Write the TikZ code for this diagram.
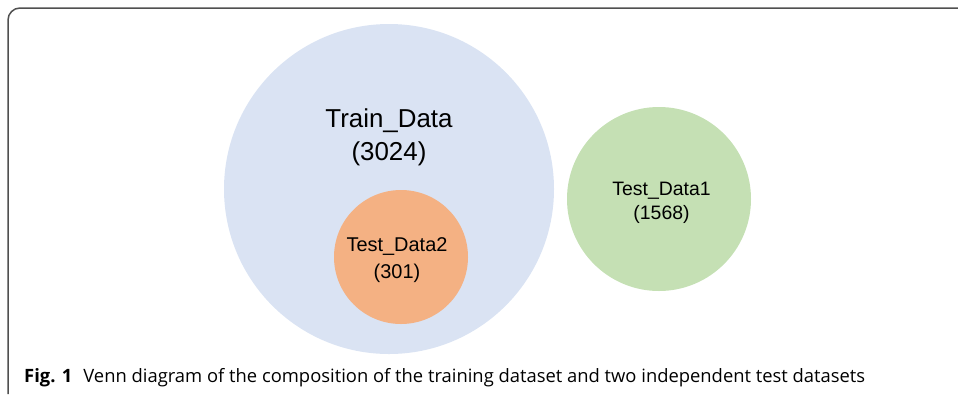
\documentclass[tikz,border=0pt]{standalone}
\usepackage{fontspec}
\setmainfont{Liberation Sans}
\newfontfamily\capfont{Open Sans}
\definecolor{trainblue}{HTML}{DAE3F3}
\definecolor{testorange}{HTML}{F4B183}
\definecolor{testgreen}{HTML}{C5E0B4}
\definecolor{framegray}{HTML}{505050}
\begin{document}
\begin{tikzpicture}[x=1bp,y=-1bp,
  setcircle/.style={circle,draw=none,inner sep=0pt},
  lbl/.style={align=center,text=black,inner sep=0pt}]
\useasboundingbox (0,0) rectangle (958,394);
\draw[framegray,line width=1.5bp] (958,8) -- (20,8) arc[start angle=270,end angle=180,radius=12] -- (8,394);
\node[setcircle,fill=trainblue,minimum size=330bp] (train) at (389,189) {};
\node[setcircle,fill=testorange,minimum size=134bp] (t2) at (401,257) {};
\node[setcircle,fill=testgreen,minimum size=184bp] (t1) at (659,199) {};
\node[lbl,font=\fontsize{26}{33}\selectfont] (trainlbl) at (389,137) {Train\_Data\\(3024)};
\node[lbl,font=\fontsize{20}{27}\selectfont] (t2lbl) at (397,260) {Test\_Data2\\(301)};
\node[lbl,font=\fontsize{19.5}{24}\selectfont] (t1lbl) at (661.5,202.5) {Test\_Data1\\(1568)};
\node[anchor=base west,inner sep=0pt,font=\capfont\fontsize{18.45}{22}\selectfont] (cap) at (24,382) {\textbf{Fig. 1}\hspace{0.6em}Venn diagram of the composition of the training dataset and two independent test datasets};
\end{tikzpicture}
\end{document}
